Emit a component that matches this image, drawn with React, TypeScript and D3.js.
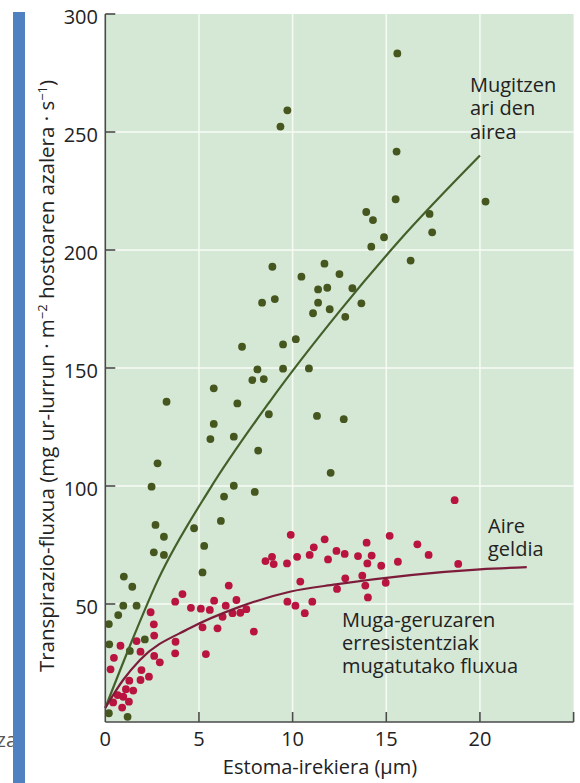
import React from "react";
import * as d3 from "d3";

const xTicks = [0, 5, 10, 15, 20];
const xTickMarks = [5, 10, 15, 20, 25];
const yTicks = [50, 100, 150, 200, 250, 300];
const gridX = [5, 10, 15, 20];
const gridY = [50, 100, 150, 200, 250];

// Moving air (green) observations: [stomatal aperture µm, flux]
const movingX = [9.35, 9.72, 15.59, 15.55, 15.5, 20.3, 13.93, 14.29, 17.31, 17.45, 14.88, 14.2, 16.3, 11.7, 12.5, 10.47, 11.36, 11.85, 13.19, 11.36, 11.98, 13.67, 11.09, 12.81, 10.87, 11.3, 12.73, 12.03, 8.92, 8.37, 9.05, 7.3, 9.49, 10.17, 8.12, 9.49, 7.85, 8.46, 5.79, 3.27, 7.05, 8.73, 5.79, 5.61, 6.86, 2.79, 8.16, 2.47, 6.86, 7.98, 6.34, 6.17, 2.68, 4.74, 3.13, 5.28, 2.59, 3.13, 5.19, 0.99, 1.44, 0.96, 1.67, 0.69, 0.19, 0.21, 2.11, 1.31, 0.19, 1.19];
const movingY = [252.3, 259.2, 283.3, 241.7, 221.5, 220.5, 216.1, 212.7, 215.3, 207.5, 205.4, 201.4, 195.5, 194.2, 189.8, 188.7, 183.3, 184, 183.8, 177.7, 174.9, 177.4, 173.2, 171.7, 149.8, 129.7, 128.3, 105.6, 192.9, 177.7, 179.2, 159, 160, 162.2, 149.4, 149.7, 144.9, 145.3, 141.4, 135.7, 135, 130.4, 126.3, 119.9, 120.9, 109.6, 115, 99.7, 100.1, 97.5, 95.5, 85.2, 83.5, 82.1, 78.5, 74.6, 71.9, 70.8, 63.4, 61.6, 57.3, 49.3, 49.3, 45.3, 41.5, 32.9, 35, 30.1, 3.7, 2.2];

// Still air (red) observations
const stillX = [9.9, 8.55, 8.9, 8.99, 9.7, 10.24, 10.91, 11.13, 11.71, 11.89, 12.34, 10.41, 12.37, 9.72, 10.15, 11.05, 10.65, 6.59, 4.12, 3.73, 4.57, 5.1, 5.58, 5.81, 6.43, 7.0, 6.26, 6.79, 7.21, 7.53, 5.19, 5.99, 7.93, 5.37, 3.75, 3.73, 2.42, 2.59, 2.61, 1.67, 1.88, 0.81, 0.46, 2.61, 2.91, 0.28, 1.93, 1.88, 2.33, 1.28, 1.49, 1.1, 0.66, 0.96, 0.42, 1.26, 0.9, 18.65, 15.18, 13.95, 12.78, 16.66, 17.26, 13.49, 14.22, 13.99, 14.73, 15.62, 18.84, 12.81, 13.72, 13.88, 14.97, 14.02];
const stillY = [79.3, 68.2, 70.0, 66.9, 67.2, 70, 70.8, 74, 77.4, 68.9, 72.5, 59.5, 56.4, 51, 49.3, 51, 46.1, 57.8, 54.2, 51, 48.4, 48, 47.5, 51.4, 49.3, 51.7, 44.6, 46.1, 46.3, 47.8, 40.1, 39.7, 38.3, 28.8, 34, 29.1, 46.5, 41.4, 36.6, 34.3, 29.8, 32.3, 27.2, 28, 25.3, 22.3, 22, 17.8, 19.2, 17.5, 13.3, 13.9, 11.4, 10.7, 8.3, 8.6, 6.1, 94, 78.9, 76, 71.2, 75.3, 70.8, 70.3, 70.5, 67.2, 66.2, 67.9, 67, 60.9, 62, 57.8, 59, 52.8];

// Fitted curves
const movingFitX = [0, 1.3, 2.8, 5.6, 8.8, 12.5, 15.7, 20];
const movingFitY = [6, 32, 60, 99, 136, 174, 204, 240];
const stillFitX = [0, 0.95, 1.85, 4.5, 7.2, 9.85, 12.3, 20, 22.5];
const stillFitY = [6, 17.8, 26.3, 39.7, 48.9, 55.2, 58.3, 64.7, 65.6];

const FONT = "'Open Sans', 'Noto Sans', sans-serif";

export default function App() {
  const x = d3.scaleLinear().domain([0, 25]).range([105.3, 573.6]);
  const y = d3.scaleLinear().domain([0, 300]).range([722, 14]);
  const line = d3
    .line<[number, number]>()
    .x((d) => x(d[0]))
    .y((d) => y(d[1]))
    .curve(d3.curveMonotoneX);
  const movingFit = movingFitX.map((v, i) => [v, movingFitY[i]] as [number, number]);
  const stillFit = stillFitX.map((v, i) => [v, stillFitY[i]] as [number, number]);
  const [x0, x1] = x.range();
  const [y0, y1] = y.range();

  return (
    <svg
      width={580}
      height={783}
      style={{ position: "absolute", left: 0, top: 0, background: "#fff" }}
      fontFamily={FONT}
    >
      <text x={17} y={747} textAnchor="end" fontSize={20} fill="#555">za</text>
      <rect x={13} y={12} width={12} height={771} fill="#4f80bf" />
      <rect x={x0} y={y1} width={x1 - x0} height={y0 - y1} fill="#d5e8d5" />
      {gridX.map((v) => (
        <line key={"gx" + v} x1={x(v)} x2={x(v)} y1={y0} y2={y1} stroke="#f6fbf4" strokeWidth={1.5} />
      ))}
      {gridY.map((v) => (
        <line key={"gy" + v} x1={x0} x2={x1} y1={y(v)} y2={y(v)} stroke="#f6fbf4" strokeWidth={1.5} />
      ))}
      {movingX.map((v, i) => (
        <circle key={"m" + i} cx={x(v)} cy={y(movingY[i])} r={3.9} fill="#46561f" />
      ))}
      {stillX.map((v, i) => (
        <circle key={"s" + i} cx={x(v)} cy={y(stillY[i])} r={3.9} fill="#b8143f" />
      ))}
      <path d={line(movingFit) || ""} fill="none" stroke="#44602a" strokeWidth={2.2} />
      <path d={line(stillFit) || ""} fill="none" stroke="#7d1c3a" strokeWidth={2.2} />
      {/* axes */}
      <line x1={x0} x2={x0} y1={y1} y2={y0} stroke="#4a4a4a" strokeWidth={1.6} />
      <line x1={x0} x2={x1} y1={y0} y2={y0} stroke="#4a4a4a" strokeWidth={1.6} />
      {yTicks.map((v) => (
        <g key={"yt" + v}>
          <line x1={x0} x2={x0 + 10} y1={y(v)} y2={y(v)} stroke="#4a4a4a" strokeWidth={1.6} />
          <text x={98} y={y(v) + 10} textAnchor="end" fontSize={20} fill="#222">{v}</text>
        </g>
      ))}
      {xTickMarks.map((v) => (
        <line key={"xt" + v} x1={x(v)} x2={x(v)} y1={y0} y2={y0 - 10} stroke="#4a4a4a" strokeWidth={1.6} />
      ))}
      {xTicks.map((v) => (
        <text key={"xl" + v} x={x(v)} y={746} textAnchor="middle" fontSize={20} fill="#222">{v}</text>
      ))}
      <text x={320} y={774} textAnchor="middle" fontSize={20} fill="#222">Estoma-irekiera (µm)</text>
      <text transform="translate(54,376) rotate(-90)" textAnchor="middle" fontSize={20.5} fill="#222">
        Transpirazio-fluxua (mg ur-lurrun · m
        <tspan fontSize={13} dy={-7}>−2</tspan>
        <tspan dy={7}> hostoaren azalera · s</tspan>
        <tspan fontSize={13} dy={-7}>−1</tspan>
        <tspan dy={7}>)</tspan>
      </text>
      {/* annotations */}
      <g fontSize={20} fill="#222">
        <text x={470} y={92}>Mugitzen</text>
        <text x={470} y={115}>ari den</text>
        <text x={470} y={139}>airea</text>
        <text x={488} y={533}>Aire</text>
        <text x={488} y={556}>geldia</text>
        <text x={342} y={627}>Muga-geruzaren</text>
        <text x={342} y={650}>erresistentziak</text>
        <text x={342} y={673}>mugatutako fluxua</text>
      </g>
    </svg>
  );
}
